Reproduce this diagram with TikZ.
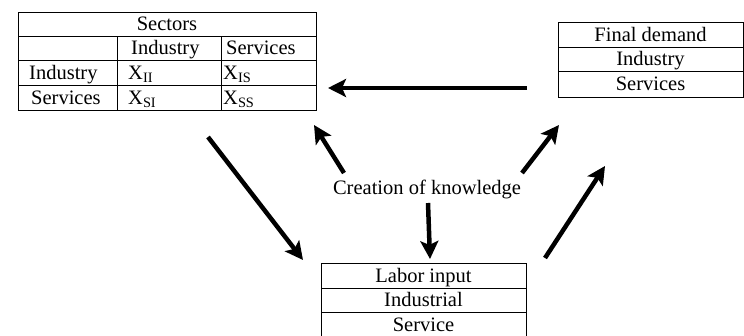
\documentclass[tikz,border=0pt]{standalone}
\usepackage{fontspec}
\setmainfont{Liberation Serif}
\usetikzlibrary{arrows.meta}
\tikzset{
  cell/.style={anchor=base, inner sep=0pt, font=\fontsize{20.5}{24}\selectfont},
  ccell/.style={cell},
  box/.style={draw, line width=0.9pt},
  fat/.style={line width=4.5pt, -{Stealth[length=18pt,width=18pt,inset=4pt]}},
}
\begin{document}
\begin{tikzpicture}[x=1pt,y=-1pt]
\useasboundingbox (0,0) rectangle (744,335);
\clip (0,0) rectangle (744,335);
% Sectors table
\draw[box] (18,12) rectangle (316,110);
\draw[box] (18,36) -- (316,36) (18,60) -- (316,60) (18,85) -- (316,85);
\draw[box] (117,36) -- (117,110) (221,36) -- (221,110);
\node[ccell] (sect) at (167,30) {Sectors};
\node[cell, anchor=base west] (hind) at (131,54) {Industry};
\node[cell, anchor=base west] (hser) at (226,54) {Services};
\node[cell, anchor=base west] (rind) at (29,79) {Industry};
\node[cell, anchor=base west] (rser) at (31,104) {Services};
\node[cell, anchor=base west] (xii) at (128,79) {X\textsubscript{II}};
\node[cell, anchor=base west] (xis) at (223,79) {X\textsubscript{IS}};
\node[cell, anchor=base west] (xsi) at (128,104) {X\textsubscript{SI}};
\node[cell, anchor=base west] (xss) at (223,104) {X\textsubscript{SS}};
% Final demand
\draw[box] (558,22) rectangle (743,97);
\draw[box] (558,47) -- (743,47) (558,71) -- (743,71);
\node[ccell] (fd) at (650.5,41) {Final demand};
\node[ccell] (fdi) at (650.5,65.5) {Industry};
\node[ccell] (fds) at (650.5,90) {Services};
% Labor input
\draw[box] (321,263) rectangle (526,345);
\draw[box] (321,288) -- (526,288) (321,312) -- (526,312);
\node[ccell] (li) at (423.5,282) {Labor input};
\node[ccell] (lii) at (423.5,306.5) {Industrial};
\node[ccell] (lis) at (423.5,331) {Service};
% Creation of knowledge
\node[ccell] (know) at (427,194) {Creation of knowledge};
% arrow ends
\coordinate (a1s) at (527,88);  \coordinate (a1e) at (328,88);
\coordinate (a2s) at (208,137); \coordinate (a2e) at (303,260);
\coordinate (a3s) at (344,173); \coordinate (a3e) at (314,125);
\coordinate (a4s) at (522,173); \coordinate (a4e) at (559,125);
\coordinate (a5s) at (428,203); \coordinate (a5e) at (430,259);
\coordinate (a6s) at (545,258); \coordinate (a6e) at (605,166);
\draw[fat] (a1s) -- (a1e);
\draw[fat] (a2s) -- (a2e);
\draw[fat] (a3s) -- (a3e);
\draw[fat] (a4s) -- (a4e);
\draw[fat] (a5s) -- (a5e);
\draw[fat] (a6s) -- (a6e);
\end{tikzpicture}
\end{document}
